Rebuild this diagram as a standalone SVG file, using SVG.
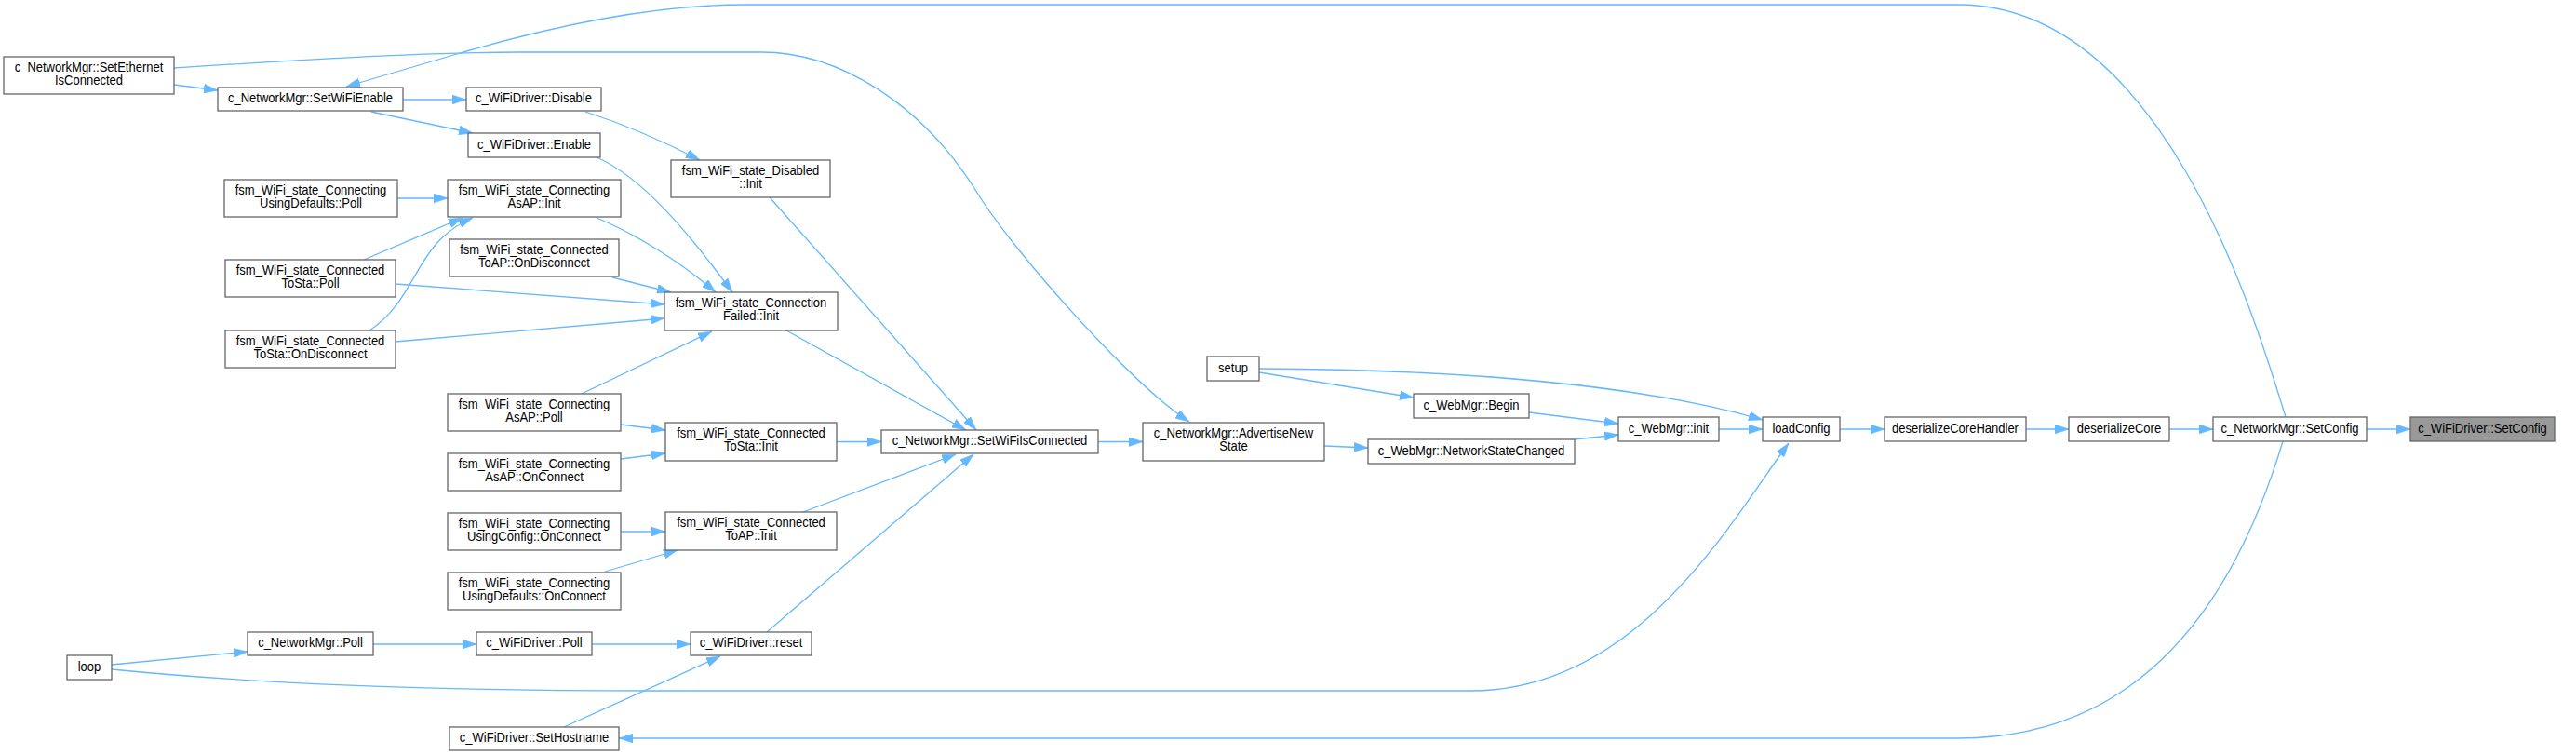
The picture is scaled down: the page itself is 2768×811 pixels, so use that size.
<svg xmlns="http://www.w3.org/2000/svg" width="2768" height="811" viewBox="0 0 2768 811">
<style>
.n rect{fill:#ffffff;stroke:#666666;stroke-width:1.3}
.n.hl rect{fill:#999999}
.n text{font-family:"Liberation Sans",Arial,Helvetica,sans-serif;font-size:14px;text-anchor:middle;fill:#000000;transform-box:fill-box;transform-origin:center;transform:scaleX(0.93)}
#edges path{fill:none;stroke:#63b8ff;stroke-width:1.3;marker-end:url(#arr)}
</style>
<defs>
<marker id="arr" markerUnits="userSpaceOnUse" markerWidth="15" markerHeight="10" viewBox="0 0 15 10" refX="15" refY="5" orient="auto">
<path d="M0,0 L15,5 L0,10 z" fill="#63b8ff" stroke="#63b8ff" stroke-width="0.5"/>
</marker>
</defs>
<rect x="0" y="0" width="2768" height="811" fill="#ffffff"/>
<g id="edges">
<path d="M2543,461 L2590,461"/>
<path d="M2331,461 L2378,461"/>
<path d="M2177,461 L2223,461"/>
<path d="M1977,461 L2025,461"/>
<path d="M1847,461 L1894,461"/>
<path d="M1643,443 L1739,455"/>
<path d="M1692,472 L1739,467"/>
<path d="M1353,396 C1560,397 1760,412 1894,451"/>
<path d="M1353,400 L1519,427"/>
<path d="M1423,479 L1470,481"/>
<path d="M1180,474.5 L1228,474.5"/>
<path d="M187,73 C330,64 450,56 560,56 L818,56 C900,56 990,110 1050,207 C1090,272 1218,415 1278,453"/>
<path d="M2456,448 C2420,330 2320,5 2104,5 L800,5 C720,5 620,20 491,58 C440,73 400,85 372,93"/>
<path d="M2453,474 C2400,650 2300,793 2104,793 L665,793"/>
<path d="M120,719 C260,733 450,742 700,742 L1580,742 C1760,742 1860,560 1922,476"/>
<path d="M120,714 L266,700"/>
<path d="M401,692 L512,692"/>
<path d="M636,692 L742,692"/>
<path d="M606,781 L774,705"/>
<path d="M824,679 L1046,488"/>
<path d="M863,550 L1027,488"/>
<path d="M899,474.5 L947,474.5"/>
<path d="M845,355 L1038,462"/>
<path d="M827,212 L1049,462"/>
<path d="M667,571 L715,571"/>
<path d="M650,614 L728,591"/>
<path d="M667,456 L715,462"/>
<path d="M667,493 L715,487"/>
<path d="M641,169 C690,190 740,250 787,314"/>
<path d="M629,120 C660,130 700,145 752,172"/>
<path d="M641,234 C680,250 730,280 769,314"/>
<path d="M658,298 L721,314"/>
<path d="M425,305 L714,327"/>
<path d="M425,367 L714,342"/>
<path d="M625,423 L765,356"/>
<path d="M427,213 L481,213"/>
<path d="M391,279 L497,234"/>
<path d="M397,355 C450,320 445,260 508,234"/>
<path d="M187,91 L234,97"/>
<path d="M433,107 L501,107"/>
<path d="M399,120 L508,143"/>
</g>
<g id="n0" class="n hl"><rect x="2590" y="448" width="155" height="26"/><text x="2667.5" y="465">c_WiFiDriver::SetConfig</text></g>
<g id="n1" class="n"><rect x="2378" y="448" width="165" height="26"/><text x="2460.5" y="465">c_NetworkMgr::SetConfig</text></g>
<g id="n2" class="n"><rect x="2223" y="448" width="108" height="26"/><text x="2277" y="465">deserializeCore</text></g>
<g id="n3" class="n"><rect x="2025" y="448" width="152" height="26"/><text x="2101" y="465">deserializeCoreHandler</text></g>
<g id="n4" class="n"><rect x="1894" y="448" width="83" height="26"/><text x="1935.5" y="465">loadConfig</text></g>
<g id="n5" class="n"><rect x="1739" y="448" width="108" height="26"/><text x="1793" y="465">c_WebMgr::init</text></g>
<g id="n6" class="n"><rect x="1519" y="423" width="124" height="26"/><text x="1581" y="440">c_WebMgr::Begin</text></g>
<g id="n7" class="n"><rect x="1470" y="472" width="222" height="26"/><text x="1581" y="489">c_WebMgr::NetworkStateChanged</text></g>
<g id="n8" class="n"><rect x="1297" y="383" width="56" height="26"/><text x="1325" y="400">setup</text></g>
<g id="n9" class="n"><rect x="1228" y="454" width="195" height="41"/><text x="1325.5" y="470.5">c_NetworkMgr::AdvertiseNew</text><text x="1325.5" y="484.5">State</text></g>
<g id="n10" class="n"><rect x="947" y="462" width="233" height="25"/><text x="1063.5" y="478.5">c_NetworkMgr::SetWiFiIsConnected</text></g>
<g id="n11" class="n"><rect x="721" y="172" width="171" height="40"/><text x="806.5" y="188.5">fsm_WiFi_state_Disabled</text><text x="806.5" y="202.5">::Init</text></g>
<g id="n12" class="n"><rect x="714" y="314" width="186" height="41"/><text x="807" y="330.5">fsm_WiFi_state_Connection</text><text x="807" y="344.5">Failed::Init</text></g>
<g id="n13" class="n"><rect x="715" y="454" width="184" height="41"/><text x="807" y="470.5">fsm_WiFi_state_Connected</text><text x="807" y="484.5">ToSta::Init</text></g>
<g id="n14" class="n"><rect x="715" y="550" width="184" height="41"/><text x="807" y="566.5">fsm_WiFi_state_Connected</text><text x="807" y="580.5">ToAP::Init</text></g>
<g id="n15" class="n"><rect x="742" y="679" width="130" height="25"/><text x="807" y="695.5">c_WiFiDriver::reset</text></g>
<g id="n16" class="n"><rect x="501" y="94" width="145" height="25"/><text x="573.5" y="110.5">c_WiFiDriver::Disable</text></g>
<g id="n17" class="n"><rect x="503" y="143" width="142" height="26"/><text x="574" y="160">c_WiFiDriver::Enable</text></g>
<g id="n18" class="n"><rect x="481" y="193" width="186" height="40"/><text x="574" y="209.5">fsm_WiFi_state_Connecting</text><text x="574" y="223.5">AsAP::Init</text></g>
<g id="n19" class="n"><rect x="483" y="257" width="182" height="40"/><text x="574" y="273.5">fsm_WiFi_state_Connected</text><text x="574" y="287.5">ToAP::OnDisconnect</text></g>
<g id="n20" class="n"><rect x="481" y="423" width="186" height="40"/><text x="574" y="439.5">fsm_WiFi_state_Connecting</text><text x="574" y="453.5">AsAP::Poll</text></g>
<g id="n21" class="n"><rect x="481" y="487" width="186" height="40"/><text x="574" y="503.5">fsm_WiFi_state_Connecting</text><text x="574" y="517.5">AsAP::OnConnect</text></g>
<g id="n22" class="n"><rect x="481" y="551" width="186" height="40"/><text x="574" y="567.5">fsm_WiFi_state_Connecting</text><text x="574" y="581.5">UsingConfig::OnConnect</text></g>
<g id="n23" class="n"><rect x="481" y="615" width="186" height="40"/><text x="574" y="631.5">fsm_WiFi_state_Connecting</text><text x="574" y="645.5">UsingDefaults::OnConnect</text></g>
<g id="n24" class="n"><rect x="512" y="679" width="124" height="25"/><text x="574" y="695.5">c_WiFiDriver::Poll</text></g>
<g id="n25" class="n"><rect x="483" y="781" width="182" height="25"/><text x="574" y="797.5">c_WiFiDriver::SetHostname</text></g>
<g id="n26" class="n"><rect x="234" y="94" width="199" height="25"/><text x="333.5" y="110.5">c_NetworkMgr::SetWiFiEnable</text></g>
<g id="n27" class="n"><rect x="241" y="193" width="186" height="40"/><text x="334" y="209.5">fsm_WiFi_state_Connecting</text><text x="334" y="223.5">UsingDefaults::Poll</text></g>
<g id="n28" class="n"><rect x="242" y="279" width="183" height="40"/><text x="333.5" y="295.5">fsm_WiFi_state_Connected</text><text x="333.5" y="309.5">ToSta::Poll</text></g>
<g id="n29" class="n"><rect x="242" y="355" width="183" height="40"/><text x="333.5" y="371.5">fsm_WiFi_state_Connected</text><text x="333.5" y="385.5">ToSta::OnDisconnect</text></g>
<g id="n30" class="n"><rect x="266" y="679" width="135" height="25"/><text x="333.5" y="695.5">c_NetworkMgr::Poll</text></g>
<g id="n31" class="n"><rect x="4" y="61" width="183" height="40"/><text x="95.5" y="77.5">c_NetworkMgr::SetEthernet</text><text x="95.5" y="91.5">IsConnected</text></g>
<g id="n32" class="n"><rect x="72" y="704" width="48" height="26"/><text x="96" y="721">loop</text></g>
</svg>
